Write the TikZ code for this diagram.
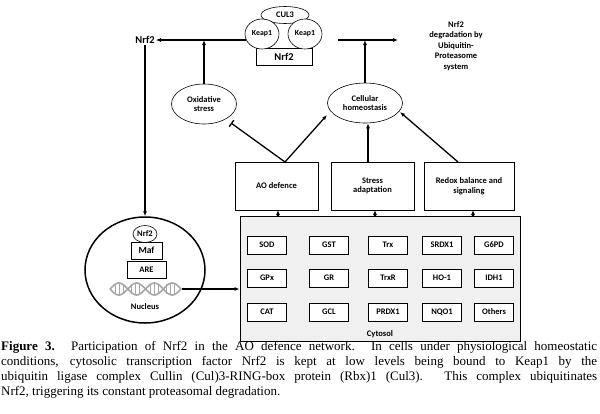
\documentclass[tikz,border=0pt]{standalone}
\usepackage{fontspec}
\setmainfont{Liberation Serif}
\newfontfamily\diag{Carlito}
\usetikzlibrary{arrows.meta,shapes.geometric}
\begin{document}
\begin{tikzpicture}[x=1pt,y=-1pt,
  every node/.style={font=\diag\bfseries\fontsize{8.5}{9.5}\selectfont, inner sep=1pt},
  ell/.style={draw, ellipse, line width=0.6pt, inner sep=0pt},
  bx/.style={draw, line width=0.6pt, align=center},
  sm/.style={draw, line width=0.8pt, minimum width=39pt, minimum height=18pt},
  arr/.style={line width=1.3pt, -{Latex[length=5pt,width=4pt]}},
  inh/.style={line width=1.3pt, -{Bar[width=8pt]}}]
\useasboundingbox (0,0) rectangle (600,413);
% top complex
\node[bx, minimum width=56pt, minimum height=17pt, font=\diag\bfseries\fontsize{10.5}{11}\selectfont] (nrfbox) at (284,56.5) {Nrf2};
\node[ell, minimum width=48pt, minimum height=17pt, fill=white] (cul) at (285,15) {CUL3};
\node[ell, minimum width=34pt, minimum height=30pt, fill=white, font=\diag\bfseries\fontsize{7.8}{8}\selectfont] (k1) at (262,34) {Keap1};
\node[ell, minimum width=34pt, minimum height=30pt, fill=white, font=\diag\bfseries\fontsize{7.8}{8}\selectfont] (k2) at (305,34) {Keap1};
\node[font=\diag\bfseries\fontsize{10.5}{11}\selectfont] (nrf) at (145,40) {Nrf2};
\coordinate (lstart) at (246,40);
\coordinate (rs) at (338,40);
\coordinate (re) at (398,40);
\draw[arr] (lstart) -- (nrf.east);
\draw[arr] (rs) -- (re);
\node[align=center, font=\diag\bfseries\fontsize{8.5}{10.5}\selectfont] (deg) at (456,46) {Nrf2\\degradation by\\Ubiquitin-\\Proteasome\\system};
% ellipses
\node[ell, minimum width=65pt, minimum height=40pt, align=center] (ox) at (204,104) {Oxidative\\stress};
\node[ell, minimum width=75pt, minimum height=40pt, align=center] (ch) at (365,103) {Cellular\\homeostasis};
\coordinate (oxt) at (204,40);
\coordinate (cht) at (365,40);
\draw[arr] (ox.north) -- (oxt);
\draw[arr] (ch.north) -- (cht);
% boxes
\node[bx, minimum width=83pt, minimum height=48pt] (ao) at (276.5,186) {AO defence};
\node[bx, minimum width=83pt, minimum height=48pt] (sa) at (372.5,186) {Stress\\adaptation};
\node[bx, minimum width=90pt, minimum height=48pt] (rb) at (469,186) {Redox balance and\\signaling};
\coordinate (aot) at (285,162);
\coordinate (sat) at (368,162);
\coordinate (rbt) at (458,162);
\draw[inh] (aot) -- (231,123);
\draw[arr] (aot) -- (327,115);
\draw[arr] (sat) -- (ch.south -| sat);
\draw[arr] (rbt) -- (400,112);
% cytosol
\node[draw, line width=0.8pt, fill=gray!12, minimum width=280pt, minimum height=125pt] (cyt) at (380,278.5) {};
\node (cytl) at (380,334) {Cytosol};
\draw[arr] (278,216) -- (278,210);
\draw[arr] (375,216) -- (375,210);
\draw[arr] (473,216) -- (473,210);
\foreach \t/\x/\y [count=\i] in {SOD/267/245, GST/329/245, Trx/388/245, SRDX1/442/245, G6PD/494/245,
  GPx/267/278, GR/329/278, TrxR/388/278, HO-1/442/278, IDH1/494/278,
  CAT/267/312, GCL/329/312, PRDX1/388/312, NQO1/442/312, Others/494/312}
  \node[sm, fill=white] (e\i) at (\x,\y) {\t};
% nucleus
\node[draw, ellipse, line width=1.5pt, minimum width=120pt, minimum height=106pt] (nuc) at (145,270) {};
\draw[arr] (nrf.south) -- (nuc.north);
\node[ell, minimum width=24pt, minimum height=17pt] (n2) at (145,234) {Nrf2};
\node[bx, line width=0.9pt, minimum width=31pt, minimum height=17pt, font=\diag\bfseries\fontsize{9.5}{10}\selectfont] (maf) at (146.5,250.5) {Maf};
\node[bx, line width=0.9pt, minimum width=39pt, minimum height=17pt] (are) at (146.5,269.5) {ARE};
\begin{scope}[gray!70, line width=1.6pt]
\draw plot[domain=110:181, samples=60, smooth] (\x,{289+6*sin((\x-110)*10.14)});
\draw plot[domain=110:181, samples=60, smooth] (\x,{289-6*sin((\x-110)*10.14)});
\foreach \xx in {115,119,123,131,135,139,150,154,158,166,170,174}
  \draw[line width=1pt] (\xx,284) -- (\xx,294);
\end{scope}
\coordinate (dnar) at (182,289);
\node (nl) at (145,307) {Nucleus};
\draw[arr] (dnar) -- (cyt.west |- dnar);
% caption
\node[anchor=north west, text width=596pt, align=justify, inner sep=0pt,
  font=\rmfamily\fontsize{13}{15}\selectfont] (cap) at (1,341)
{\textbf{Figure 3.} Participation of Nrf2 in the AO defence network. In cells under physiological homeostatic\linebreak conditions, cytosolic transcription factor Nrf2 is kept at low levels being bound to Keap1 by the\linebreak ubiquitin ligase complex Cullin (Cul)3-RING-box protein (Rbx)1 (Cul3). This complex ubiquitinates\linebreak Nrf2, triggering its constant proteasomal degradation.};
\end{tikzpicture}
\end{document}
